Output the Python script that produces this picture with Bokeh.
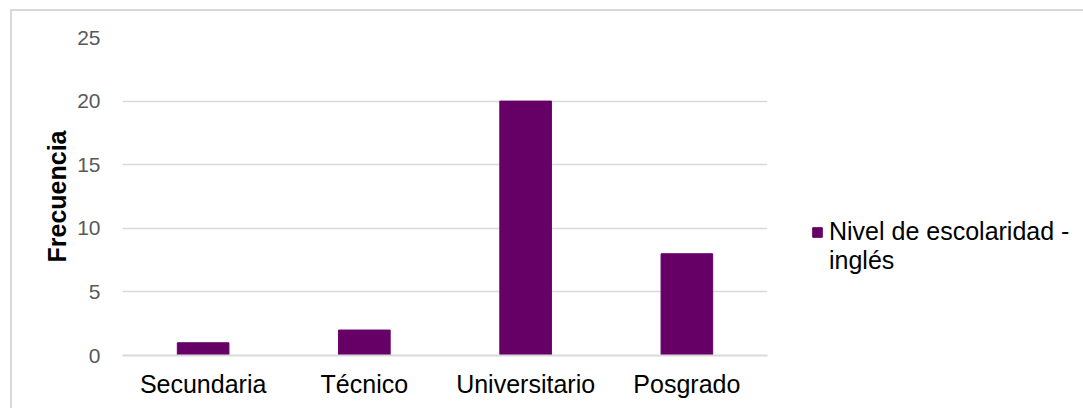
from bokeh.plotting import figure
from bokeh.models import Legend, LegendItem, FixedTicker
from bokeh.embed import file_html
from bokeh.resources import INLINE

# Education level counts
categories = ["Secundaria", "Técnico", "Universitario", "Posgrado"]
frecuencia = [1, 2, 20, 8]
y_ticks = [0, 5, 10, 15, 20, 25]
series_lines = ["Nivel de escolaridad -", "inglés"]

BAR_COLOR = "#660066"
GRID_COLOR = "#d9d9d9"
FONT = "Liberation Sans"

p = figure(
    x_range=categories,
    y_range=(0, 25),
    frame_width=645,
    frame_height=318,
    output_backend="svg",
    toolbar_location=None,
    min_border_left=110,
    min_border_right=10,
    min_border_top=26,
    min_border_bottom=53,
)
p.margin = (9, 0, 0, 10)
p.styles = {"border-left": f"2px solid {GRID_COLOR}", "border-top": f"2px solid {GRID_COLOR}",
            "border-right": f"2px solid {GRID_COLOR}"}
p.outline_line_color = None
p.background_fill_color = "white"
p.border_fill_color = "white"

bars = p.vbar(x=categories, top=frecuencia, width=0.32, color=BAR_COLOR)
# transparent twin so the wrapped second legend line carries no swatch
bars_wrap = p.vbar(x=categories, top=frecuencia, width=0.32, fill_alpha=0, line_alpha=0)

# axes
p.yaxis.ticker = FixedTicker(ticks=y_ticks)
p.yaxis.axis_line_color = None
p.yaxis.major_tick_line_color = None
p.yaxis.minor_tick_line_color = None
p.yaxis.major_label_text_font = FONT
p.yaxis.major_label_text_font_size = "21px"
p.yaxis.major_label_text_color = "#595959"
p.yaxis.major_label_standoff = 16
p.yaxis.axis_label = "Frecuencia"
p.yaxis.axis_label_text_font = FONT
p.yaxis.axis_label_text_font_size = "25px"
p.yaxis.axis_label_text_font_style = "bold"
p.yaxis.axis_label_text_color = "black"
p.yaxis.axis_label_standoff = 3

p.xaxis.axis_line_color = GRID_COLOR
p.xaxis.axis_line_width = 2
p.xaxis.major_tick_line_color = None
p.xaxis.minor_tick_line_color = None
p.xaxis.major_label_text_font = FONT
p.xaxis.major_label_text_font_size = "25px"
p.xaxis.major_label_text_color = "black"
p.xaxis.major_label_standoff = 8

p.xgrid.grid_line_color = None
p.ygrid.grid_line_color = GRID_COLOR
p.ygrid.grid_line_width = 1.5

legend = Legend(
    items=[LegendItem(label=series_lines[0], renderers=[bars]),
           LegendItem(label=series_lines[1], renderers=[bars_wrap])],
    location=(44, 80),
    padding=0,
    margin=0,
    spacing=0,
    border_line_color=None,
    background_fill_alpha=0,
    glyph_width=12,
    glyph_height=12,
    label_height=27,
    label_standoff=6,
    label_text_font=FONT,
    label_text_font_size="25px",
    label_text_color="black",
)
p.add_layout(legend, "right")

open("out.html", "w").write(file_html(p, INLINE))
